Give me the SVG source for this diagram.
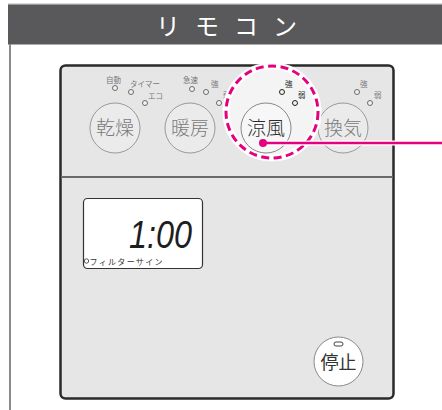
<svg xmlns="http://www.w3.org/2000/svg" width="442" height="410" viewBox="0 0 442 410">
<style>
.jp{font-family:"Noto Sans CJK JP","Noto Sans",sans-serif}
.btn{fill:#ebebec;stroke:#9a9a9a;stroke-width:1}
.btxt{font-size:19px;fill:#7a7a7a;text-anchor:middle;font-weight:300}
.ind{fill:#f2f2f2;stroke:#6a6a6a;stroke-width:1}
.itxt{font-size:7.5px;fill:#777}
</style>
<rect x="0" y="0" width="442" height="410" fill="#ffffff"/>
<g id="frame">
<line x1="8" y1="4" x2="442" y2="4" stroke="#b5b5b5" stroke-width="1"/>
<rect x="8" y="4.5" width="434" height="40" fill="#59595b"/>
<line x1="10" y1="44" x2="10" y2="410" stroke="#8a8a8a" stroke-width="2"/>
<text class="jp" x="156" y="35" font-size="24" font-weight="400" fill="#ffffff" letter-spacing="15">リモコン</text>
</g>
<g id="panel">
<rect x="60.5" y="65.5" width="333" height="333" rx="5" fill="#e6e6e7" stroke="#2a2a2a" stroke-width="2.5"/>
<line x1="61" y1="177" x2="393" y2="177" stroke="#6a6a6a" stroke-width="2"/>
</g>
<g id="btn-kansou">
<circle class="btn" cx="115" cy="128" r="25"/>
<text class="jp btxt" x="115" y="135">乾燥</text>
<circle class="ind" cx="115" cy="88" r="2.5"/>
<text class="jp itxt" x="106" y="83">自動</text>
<circle class="ind" cx="131" cy="92" r="2.5"/>
<text class="jp itxt" x="130" y="87">タイマー</text>
<circle class="ind" cx="145" cy="103" r="2.5"/>
<text class="jp itxt" x="148" y="99">エコ</text>
</g>
<g id="btn-danbou">
<circle class="btn" cx="190" cy="128" r="25"/>
<text class="jp btxt" x="190" y="135">暖房</text>
<circle class="ind" cx="192" cy="89" r="2.5"/>
<text class="jp itxt" x="183" y="83">急速</text>
<circle class="ind" cx="206" cy="92" r="2.5"/>
<text class="jp itxt" x="211" y="87">強</text>
<circle class="ind" cx="219" cy="103" r="2.5"/>
<text class="jp itxt" x="223" y="98">弱</text>
</g>
<g id="btn-kanki">
<circle class="btn" cx="343" cy="128" r="25"/>
<text class="jp btxt" x="343" y="135">換気</text>
<circle class="ind" cx="357" cy="92" r="2.5"/>
<text class="jp itxt" x="360" y="87">強</text>
<circle class="ind" cx="370" cy="103" r="2.5"/>
<text class="jp itxt" x="374" y="98">弱</text>
</g>
<g id="highlight">
<circle cx="272" cy="112" r="46" fill="#f4f4f4" stroke="#ffffff" stroke-width="7"/>
<circle cx="272" cy="112" r="46" fill="none" stroke="#e4007f" stroke-width="3" stroke-dasharray="8 4.5"/>
</g>
<g id="btn-ryoufuu">
<circle cx="266" cy="128" r="25" fill="#f7f7f7" stroke="#888" stroke-width="1"/>
<text class="jp btxt" x="266" y="135" style="fill:#2a2a2a">涼風</text>
<circle class="ind" cx="282" cy="92" r="2.5" style="stroke:#222"/>
<text class="jp itxt" x="285" y="87" style="fill:#222">強</text>
<circle class="ind" cx="295" cy="103" r="2.5" style="stroke:#222"/>
<text class="jp itxt" x="298" y="98" style="fill:#222">弱</text>
</g>
<g id="display">
<rect x="83.5" y="198.5" width="119" height="70" rx="4" fill="#ffffff" stroke="#333" stroke-width="1.2"/>
<text x="129" y="248" font-family="Liberation Sans" font-style="italic" font-size="38" fill="#1e1e1e" textLength="63" lengthAdjust="spacingAndGlyphs">1:00</text>
<circle cx="86.5" cy="261" r="2.2" fill="none" stroke="#333" stroke-width="0.8"/>
<text class="jp" x="89.5" y="264.5" font-size="8" fill="#333" textLength="73">フィルターサイン</text>
</g>
<g id="btn-teishi">
<circle cx="338.5" cy="361.5" r="24.5" fill="#ffffff" stroke="#888" stroke-width="1"/>
<rect x="334" y="342" width="9" height="4" rx="2" fill="none" stroke="#444" stroke-width="1"/>
<text class="jp" x="338.5" y="369" font-size="18" fill="#333" text-anchor="middle">停止</text>
</g>
<g id="connectors">
<line x1="263" y1="143" x2="442" y2="143" stroke="#ffffff" stroke-width="5"/>
<line x1="263" y1="143" x2="442" y2="143" stroke="#e4007f" stroke-width="2.5"/>
<circle cx="263" cy="143" r="4" fill="#e4007f"/>
</g>
</svg>
